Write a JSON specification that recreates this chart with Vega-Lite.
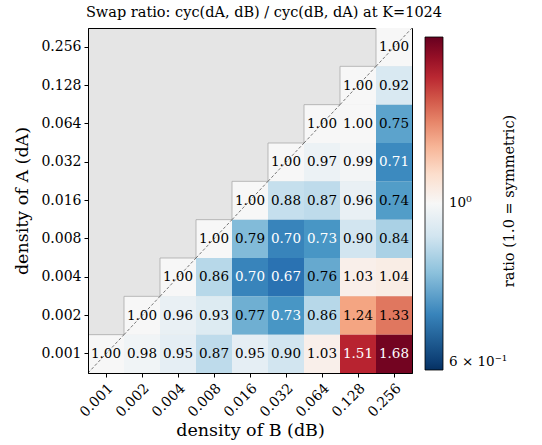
{
  "$schema": "https://vega.github.io/schema/vega-lite/v6.json",
  "width": 324,
  "height": 345,
  "padding": {"left": 13, "top": 4, "right": 5, "bottom": 5},
  "background": "white",
  "title": {"text": "Swap ratio: cyc(dA, dB) / cyc(dB, dA)  at K=1024", "font": "DejaVu Serif", "fontSize": 14.5, "fontWeight": "normal", "color": "black", "offset": 6, "frame": "group", "anchor": "middle", "dx": 14},
  "data": {"values": [
    {"dA": "0.256", "dB": "0.256", "ratio": 1.00},
    {"dA": "0.128", "dB": "0.128", "ratio": 1.00},
    {"dA": "0.128", "dB": "0.256", "ratio": 0.92},
    {"dA": "0.064", "dB": "0.064", "ratio": 1.00},
    {"dA": "0.064", "dB": "0.128", "ratio": 1.00},
    {"dA": "0.064", "dB": "0.256", "ratio": 0.75},
    {"dA": "0.032", "dB": "0.032", "ratio": 1.00},
    {"dA": "0.032", "dB": "0.064", "ratio": 0.97},
    {"dA": "0.032", "dB": "0.128", "ratio": 0.99},
    {"dA": "0.032", "dB": "0.256", "ratio": 0.71},
    {"dA": "0.016", "dB": "0.016", "ratio": 1.00},
    {"dA": "0.016", "dB": "0.032", "ratio": 0.88},
    {"dA": "0.016", "dB": "0.064", "ratio": 0.87},
    {"dA": "0.016", "dB": "0.128", "ratio": 0.96},
    {"dA": "0.016", "dB": "0.256", "ratio": 0.74},
    {"dA": "0.008", "dB": "0.008", "ratio": 1.00},
    {"dA": "0.008", "dB": "0.016", "ratio": 0.79},
    {"dA": "0.008", "dB": "0.032", "ratio": 0.70},
    {"dA": "0.008", "dB": "0.064", "ratio": 0.73},
    {"dA": "0.008", "dB": "0.128", "ratio": 0.90},
    {"dA": "0.008", "dB": "0.256", "ratio": 0.84},
    {"dA": "0.004", "dB": "0.004", "ratio": 1.00},
    {"dA": "0.004", "dB": "0.008", "ratio": 0.86},
    {"dA": "0.004", "dB": "0.016", "ratio": 0.70},
    {"dA": "0.004", "dB": "0.032", "ratio": 0.67},
    {"dA": "0.004", "dB": "0.064", "ratio": 0.76},
    {"dA": "0.004", "dB": "0.128", "ratio": 1.03},
    {"dA": "0.004", "dB": "0.256", "ratio": 1.04},
    {"dA": "0.002", "dB": "0.002", "ratio": 1.00},
    {"dA": "0.002", "dB": "0.004", "ratio": 0.96},
    {"dA": "0.002", "dB": "0.008", "ratio": 0.93},
    {"dA": "0.002", "dB": "0.016", "ratio": 0.77},
    {"dA": "0.002", "dB": "0.032", "ratio": 0.73},
    {"dA": "0.002", "dB": "0.064", "ratio": 0.86},
    {"dA": "0.002", "dB": "0.128", "ratio": 1.24},
    {"dA": "0.002", "dB": "0.256", "ratio": 1.33},
    {"dA": "0.001", "dB": "0.001", "ratio": 1.00},
    {"dA": "0.001", "dB": "0.002", "ratio": 0.98},
    {"dA": "0.001", "dB": "0.004", "ratio": 0.95},
    {"dA": "0.001", "dB": "0.008", "ratio": 0.87},
    {"dA": "0.001", "dB": "0.016", "ratio": 0.95},
    {"dA": "0.001", "dB": "0.032", "ratio": 0.90},
    {"dA": "0.001", "dB": "0.064", "ratio": 1.03},
    {"dA": "0.001", "dB": "0.128", "ratio": 1.51},
    {"dA": "0.001", "dB": "0.256", "ratio": 1.68}
  ]},
  "encoding": {
    "x": {"field": "dB", "type": "ordinal",
      "scale": {"type": "band", "domain": ["0.001","0.002","0.004","0.008","0.016","0.032","0.064","0.128","0.256"], "paddingInner": 0, "paddingOuter": 0},
      "axis": {"title": "density of B  (dB)", "labelAngle": -45, "labelAlign": "right", "labelBaseline": "top", "labelPadding": 4, "titlePadding": 2}}
  },
  "resolve": {"scale": {"y": "independent"}, "axis": {"y": "independent"}},
  "layer": [
    {
      "mark": {"type": "rect"},
      "encoding": {
        "y": {"field": "dA", "type": "ordinal",
          "scale": {"type": "band", "domain": ["0.256","0.128","0.064","0.032","0.016","0.008","0.004","0.002","0.001"], "paddingInner": 0, "paddingOuter": 0},
          "axis": {"title": "density of A  (dA)", "titlePadding": 9}},
        "color": {"field": "ratio", "type": "quantitative",
          "scale": {"type": "log", "domain": [0.585, 0.6513, 0.725, 0.807, 0.8983, 1, 1.1132, 1.2393, 1.3793, 1.5355, 1.709], "nice": false, "interpolate": "rgb",
            "range": ["#053061", "#2166ac", "#4393c3", "#92c5de", "#d1e5f0", "#f7f7f7", "#fddbc7", "#f4a582", "#d6604d", "#b2182b", "#67001f"], "clamp": true},
          "legend": {"title": null, "orient": "none", "legendX": 337, "legendY": 9,
            "direction": "vertical", "gradientLength": 333, "gradientThickness": 18,
            "gradientStrokeColor": "black", "gradientStrokeWidth": 0.8,
            "values": [0.6, 1], "labelExpr": "datum.value == 1 ? '10⁰' : '6 × 10⁻¹'",
            "labelFont": "DejaVu Serif", "labelFontSize": 13.5, "labelColor": "black", "labelOffset": 6}}
      }
    },
    {
      "mark": {"type": "text", "font": "DejaVu Serif", "fontSize": 13.5},
      "encoding": {
        "y": {"field": "dA", "type": "ordinal",
          "scale": {"type": "band", "domain": ["0.256","0.128","0.064","0.032","0.016","0.008","0.004","0.002","0.001"], "paddingInner": 0, "paddingOuter": 0},
          "axis": null},
        "text": {"field": "ratio", "type": "quantitative", "format": ".2f"},
        "color": {"condition": {"test": "datum.ratio < 0.735 || datum.ratio > 1.4", "value": "white"}, "value": "black"}
      }
    },
    {
      "transform": [{"filter": "datum.dA == datum.dB"}],
      "mark": {"type": "line", "interpolate": "step-after", "color": "#aaaaaa", "strokeWidth": 0.8},
      "encoding": {
        "x": {"field": "dB", "type": "ordinal", "bandPosition": 0},
        "y": {"field": "dA", "type": "ordinal", "bandPosition": 0,
          "scale": {"type": "band", "domain": ["0.256","0.128","0.064","0.032","0.016","0.008","0.004","0.002","0.001"], "paddingInner": 0, "paddingOuter": 0},
          "axis": {"orient": "right", "title": "ratio  (1.0 = symmetric)", "titleAngle": 270, "titleFontSize": 14.5, "labels": false, "ticks": false, "domain": false, "titlePadding": 104}}
      }
    },
    {
      "transform": [{"filter": "datum.dA == datum.dB"}],
      "mark": {"type": "rule", "color": "#555555", "strokeWidth": 0.8, "strokeDash": [3, 2]},
      "encoding": {
        "x": {"field": "dB", "type": "ordinal", "bandPosition": 0},
        "y": {"field": "dA", "type": "ordinal", "bandPosition": 1,
          "scale": {"type": "band", "domain": ["0.256","0.128","0.064","0.032","0.016","0.008","0.004","0.002","0.001"], "paddingInner": 0, "paddingOuter": 0},
          "axis": null},
        "x2": {"field": "dB", "bandPosition": 1},
        "y2": {"field": "dA", "bandPosition": 0}
      }
    }
  ],
  "config": {
    "view": {"fill": "#e5e5e5", "stroke": "black", "strokeWidth": 1},
    "axis": {"labelFont": "DejaVu Serif", "labelFontSize": 14, "labelColor": "black",
      "titleFont": "DejaVu Serif", "titleFontSize": 17.5, "titleFontWeight": "normal", "titleColor": "black",
      "domainColor": "black", "tickColor": "black", "tickSize": 4, "grid": false, "labelPadding": 3}
  }
}
